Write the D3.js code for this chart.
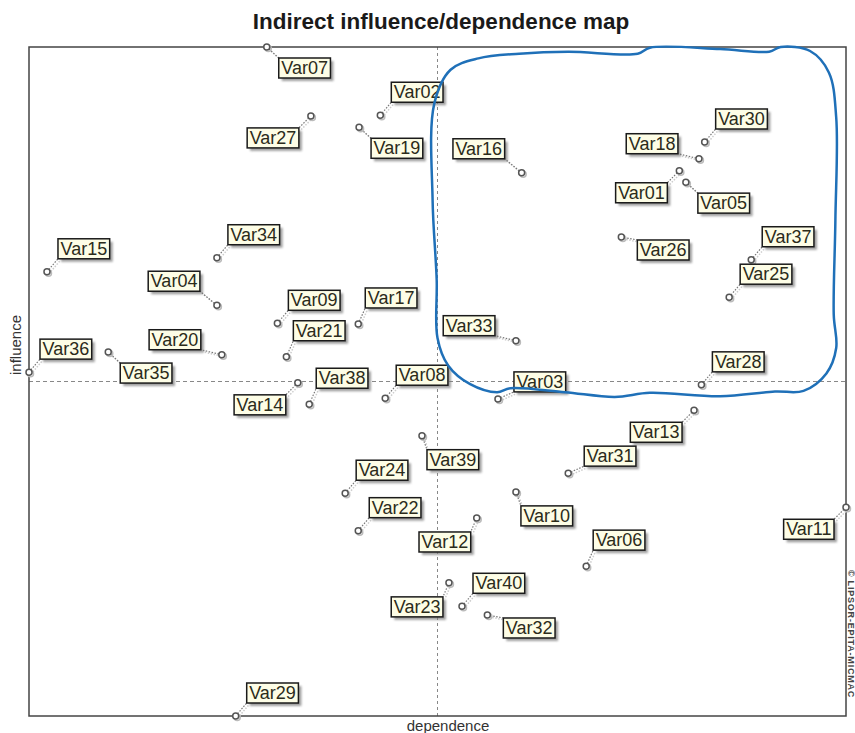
<!DOCTYPE html>
<html>
<head>
<meta charset="utf-8">
<script src="https://cdn.jsdelivr.net/npm/d3@7"></script>
<style>
  body { margin: 0; background: #fff; }
  text { font-family: "Liberation Sans", Arial, sans-serif; }
</style>
</head>
<body>
<div id="chart"></div>
<script>
// Variables and their indirect dependence / influence (0-100 scale)
const names = ["Var07","Var02","Var27","Var19","Var16","Var30","Var18","Var01","Var05","Var26",
               "Var37","Var25","Var33","Var28","Var03","Var13","Var31","Var39","Var15","Var34",
               "Var04","Var09","Var17","Var21","Var20","Var36","Var35","Var14","Var38","Var08",
               "Var24","Var22","Var23","Var29","Var10","Var12","Var06","Var40","Var32","Var11"];
const dependence = [29.1,43.0,34.5,40.4,60.3,82.7,82.0,79.6,80.4,72.5,
                    88.4,85.7,59.6,82.3,57.4,81.4,66.0,48.1,2.2,23.0,
                    23.0,30.4,40.3,31.5,23.6,0.0,9.7,32.9,34.3,43.6,
                    38.7,40.3,51.4,25.3,59.6,54.8,68.2,53.0,56.1,100];
const influence = [100,89.8,89.7,88.0,81.2,85.8,83.3,81.5,79.8,71.6,
                   68.2,62.6,56.1,49.5,47.4,45.7,36.3,41.9,66.4,68.5,
                   61.4,58.7,58.6,53.7,54.0,51.4,54.4,49.8,46.6,47.5,
                   33.3,27.7,19.9,0.0,33.5,29.6,22.4,16.4,15.1,31.2];
// side of the point where each label sits
const labelSide = ["se","ne","sw","se","nw","ne","wnw","sw","se","ese",
                   "ne","ne","wnw","ne","ene","sw","ene","sse","ne","ne",
                   "nw","ne","nne","nne","wnw","ne","se","sw","nne","ne",
                   "ne","ne","ssw","ne","sse","ssw","nne","ne","ese","sw"];
const meanDep = 50, meanInf = 50;

// hand drawn cluster outline, in chart units
const outline = [[49.6,91.5],[51.6,96.6],[55.0,98.3],[60.0,99.0],[66.0,99.3],[74.5,99.0],[76.0,99.9],
                 [84.6,99.7],[90.6,99.3],[92.0,100],[95.6,99.4],[97.9,96.2],[98.8,89.5],
                 [98.7,74.1],[98.5,60.0],[98.8,55.0],[97.6,51.2],[94.8,48.6],[91.3,48.5],
                 [84.6,47.8],[76.0,48.3],[71.7,47.7],[65.6,48.4],[58.9,49.0],[57.3,48.4],
                 [54.0,49.6],[51.3,52.4],[50.0,56.5],[49.9,65.2],[49.4,77.1]];

const margin = { top: 47, right: 9, bottom: 17, left: 29 },
      width = 855 - margin.left - margin.right,
      height = 733 - margin.top - margin.bottom;

const svg = d3.select("#chart")
  .append("svg")
    .attr("width", 855)
    .attr("height", 733);

const defs = svg.append("defs");
defs.append("filter")
    .attr("id", "blur")
  .append("feGaussianBlur")
    .attr("stdDeviation", 1.2);

const g = svg.append("g")
    .attr("transform", "translate(" + margin.left + "," + margin.top + ")");

const x = d3.scaleLinear().domain([0, 100]).range([0, width]);
const y = d3.scaleLinear().domain([0, 100]).range([height, 0]);

// title
svg.append("text")
    .attr("x", 441)
    .attr("y", 29)
    .attr("text-anchor", "middle")
    .attr("font-size", 22.5)
    .attr("font-weight", "bold")
    .attr("fill", "#1a1a1a")
    .text("Indirect influence/dependence map");

// mean lines
g.append("line")
    .attr("x1", x(meanDep)).attr("x2", x(meanDep))
    .attr("y1", 0).attr("y2", height)
    .attr("stroke", "#888").attr("stroke-dasharray", "3,3");
g.append("line")
    .attr("x1", 0).attr("x2", width)
    .attr("y1", y(meanInf)).attr("y2", y(meanInf))
    .attr("stroke", "#888").attr("stroke-dasharray", "4,3");

// frame
g.append("rect")
    .attr("width", width)
    .attr("height", height)
    .attr("fill", "none")
    .attr("stroke", "#444")
    .attr("stroke-width", 1.5);

// axis titles
svg.append("text")
    .attr("x", 448)
    .attr("y", 731)
    .attr("text-anchor", "middle")
    .attr("font-size", 15)
    .attr("fill", "#333")
    .text("dependence");
svg.append("text")
    .attr("transform", "translate(21,345) rotate(-90)")
    .attr("text-anchor", "middle")
    .attr("font-size", 15)
    .attr("fill", "#333")
    .text("influence");
svg.append("text")
    .attr("transform", "translate(847.5,634) rotate(90)")
    .attr("text-anchor", "middle")
    .attr("font-size", 9)
    .attr("letter-spacing", 0.8)
    .attr("font-weight", "bold")
    .attr("fill", "#444")
    .text("© LIPSOR-EPITA-MICMAC");

// offsets from point to the nearest box corner
const sides = {
  ne:  [11, -13], nne: [7, -16], ene: [16, -7],
  se:  [12, 11],  sse: [5, 14],  ese: [16, 3],
  sw:  [-12, 12], ssw: [-6, 14],
  nw:  [-17, -14], wnw: [-21, -5]
};

const data = names.map((n, i) => ({
  name: n, dep: dependence[i], inf: influence[i], side: labelSide[i]
}));

const boxH = 20;
const node = g.selectAll(".var")
  .data(data)
  .enter()
  .append("g")
    .attr("class", "var");

// measure label widths first
node.append("text")
    .attr("class", "lbl")
    .attr("font-size", 18)
    .attr("fill", "#2b2b1a")
    .text(d => d.name)
    .each(function(d) { d.w = this.getComputedTextLength() + 5; });

data.forEach(d => {
  const px = x(d.dep), py = y(d.inf);
  const off = sides[d.side];
  const east = off[0] > 0, south = off[1] > 0;
  d.px = px; d.py = py;
  d.cx = px + off[0];
  d.cy = py + off[1];
  d.bx = east ? d.cx : d.cx - d.w;
  d.by = south ? d.cy : d.cy - boxH;
});

// leader lines
node.insert("line", ".lbl")
    .attr("x1", d => d.px + 2).attr("y1", d => d.py + 2)
    .attr("x2", d => d.cx + 2).attr("y2", d => d.cy + 2)
    .attr("stroke", "#ccc").attr("stroke-width", 1.5)
    .attr("stroke-dasharray", "1.5,1.5");
node.insert("line", ".lbl")
    .attr("x1", d => d.px).attr("y1", d => d.py)
    .attr("x2", d => d.cx).attr("y2", d => d.cy)
    .attr("stroke", "#777").attr("stroke-width", 1.2)
    .attr("stroke-dasharray", "1.5,1.5");

// point markers
node.insert("circle", ".lbl")
    .attr("cx", d => d.px + 1.5).attr("cy", d => d.py + 1.5)
    .attr("r", 3)
    .attr("fill", "none").attr("stroke", "#bbb").attr("stroke-width", 1.5);
node.insert("circle", ".lbl")
    .attr("cx", d => d.px).attr("cy", d => d.py)
    .attr("r", 3)
    .attr("fill", "#fff").attr("stroke", "#555").attr("stroke-width", 1.5);

// label boxes with soft shadow
node.insert("rect", ".lbl")
    .attr("x", d => d.bx + 3).attr("y", d => d.by + 3)
    .attr("width", d => d.w).attr("height", boxH)
    .attr("fill", "#777").attr("opacity", 0.7)
    .attr("filter", "url(#blur)");
node.insert("rect", ".lbl")
    .attr("x", d => d.bx).attr("y", d => d.by)
    .attr("width", d => d.w).attr("height", boxH)
    .attr("fill", "#fdfde6")
    .attr("stroke", "#1a1a1a").attr("stroke-width", 1.5);

node.select(".lbl")
    .attr("x", d => d.bx + 2.5)
    .attr("y", d => d.by + boxH - 4);

// the hand drawn loop on top
g.append("path")
    .datum(outline)
    .attr("d", d3.line()
        .x(d => x(d[0]))
        .y(d => y(d[1]))
        .curve(d3.curveCatmullRomClosed.alpha(0.5)))
    .attr("fill", "none")
    .attr("stroke", "#1f70b8")
    .attr("stroke-width", 2.5);
</script>
</body>
</html>
